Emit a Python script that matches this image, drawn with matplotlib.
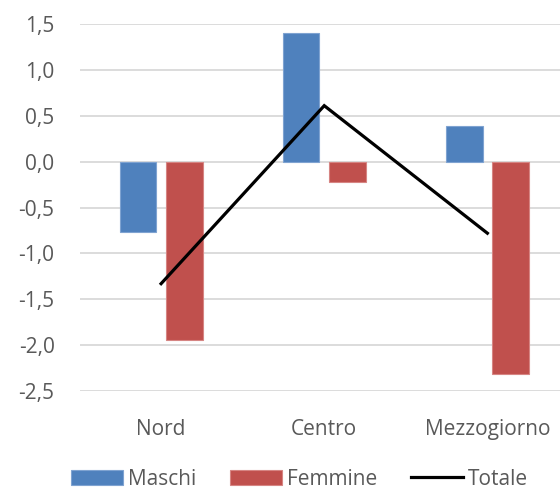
import matplotlib
matplotlib.use("Agg")
import matplotlib.pyplot as plt
import numpy as np

# data
regions = ["Nord", "Centro", "Mezzogiorno"]
maschi = [-0.77, 1.40, 0.39]
femmine = [-1.94, -0.22, -2.31]
totale = [-1.33, 0.61, -0.78]
yticks = [1.5, 1.0, 0.5, 0.0, -0.5, -1.0, -1.5, -2.0, -2.5]

BLUE = "#4F81BD"
RED = "#C0504D"
GREY_TXT = "#595959"

plt.rcParams["font.family"] = ["Open Sans", "DejaVu Sans"]


def main():
    fig = plt.figure(figsize=(5.6, 4.9), dpi=100)
    ax = fig.add_axes([0.142, 0.202, 0.874, 0.749])

    x = np.arange(len(regions))
    w = 0.225
    off = 0.142

    b1 = ax.bar(x - off, maschi, w, color=BLUE, edgecolor="#7FA3D1",
                linewidth=0.8, label="Maschi", zorder=3)
    b2 = ax.bar(x + off, femmine, w, color=RED, edgecolor="#D68583",
                linewidth=0.8, label="Femmine", zorder=3)
    l1, = ax.plot(x, totale, color="black", linewidth=2.3, label="Totale",
                  zorder=4, solid_joinstyle="miter")

    ax.set_xlim(-0.5, 2.5)
    ax.set_ylim(-2.5, 1.5)
    ax.set_yticks(yticks)
    ax.set_yticklabels([f"{v:.1f}".replace(".", ",") for v in yticks])
    ax.set_xticks(x)
    ax.set_xticklabels(regions)

    ax.grid(axis="y", color="#D9D9D9", linewidth=1.3, zorder=0)
    ax.set_axisbelow(True)
    for s in ax.spines.values():
        s.set_visible(False)
    ax.tick_params(axis="both", length=0, labelsize=15, colors=GREY_TXT)
    ax.tick_params(axis="y", pad=18)
    ax.tick_params(axis="x", pad=20)

    fig.legend([b1, b2, l1], ["Maschi", "Femmine", "Totale"],
               loc="center", bbox_to_anchor=(0.535, 0.022), ncol=3,
               frameon=False, fontsize=15, labelcolor=GREY_TXT,
               handlelength=2.5, handleheight=0.8, handletextpad=0.25,
               columnspacing=1.6, borderpad=0)

    fig.savefig("out.png", dpi=100)


if __name__ == "__main__":
    main()
